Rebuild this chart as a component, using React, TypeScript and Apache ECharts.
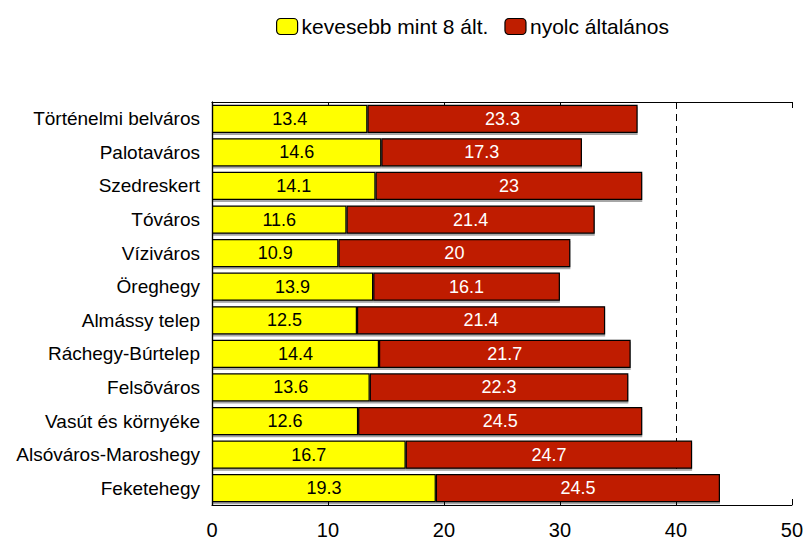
import React, { useEffect, useRef } from "react";
import * as echarts from "echarts";

const categories = [
  "Történelmi belváros",
  "Palotaváros",
  "Szedreskert",
  "Tóváros",
  "Víziváros",
  "Öreghegy",
  "Almássy telep",
  "Ráchegy-Búrtelep",
  "Felsõváros",
  "Vasút és környéke",
  "Alsóváros-Maroshegy",
  "Feketehegy",
];
const lessThan8 = [13.4, 14.6, 14.1, 11.6, 10.9, 13.9, 12.5, 14.4, 13.6, 12.6, 16.7, 19.3];
const eightGrade = [23.3, 17.3, 23, 21.4, 20, 16.1, 21.4, 21.7, 22.3, 24.5, 24.7, 24.5];
const seriesNames = ["kevesebb mint 8 ált.", "nyolc általános"];
const referenceLine = 40;

const FONT = "'Liberation Sans Narrow', 'Arial Narrow', 'Liberation Sans', Arial, sans-serif";

export default function App() {
  const ref = useRef<HTMLDivElement>(null);
  useEffect(() => {
    if (!ref.current) return;
    const chart = echarts.init(ref.current, null, { renderer: "svg" });
    const itemBase = { borderColor: "#000", borderWidth: 1.2, shadowColor: "rgba(0,0,0,0.35)", shadowOffsetY: 2, shadowOffsetX: 0, shadowBlur: 0 };
    chart.setOption({
      animation: false,
      backgroundColor: "#fff",
      textStyle: { fontFamily: FONT },
      legend: {
        top: 11,
        left: 271,
        itemWidth: 21,
        itemHeight: 16,
        itemGap: 16,
        textStyle: { fontFamily: FONT, fontSize: 21, color: "#000", padding: [0, 0, 0, -1] },
        data: seriesNames.map((n) => ({ name: n, itemStyle: { borderColor: "#000", borderWidth: 1.2, shadowOffsetY: 0 } })),
      },
      grid: { left: 212, right: 14, top: 102, bottom: 37, containLabel: false },
      xAxis: [
        {
          type: "value",
          min: 0,
          max: 50,
          interval: 10,
          position: "bottom",
          axisLine: { show: true, lineStyle: { color: "#000", width: 1.2 } },
          axisTick: { show: true, inside: true, length: 6, lineStyle: { color: "#000" } },
          axisLabel: { color: "#000", fontSize: 20, fontFamily: FONT, margin: 15 },
          splitLine: { show: false },
        },
        {
          type: "value",
          min: 0,
          max: 50,
          interval: 10,
          position: "top",
          axisLine: { show: true, lineStyle: { color: "#000", width: 1.2 } },
          axisTick: { show: true, inside: true, length: 6, lineStyle: { color: "#000" } },
          axisLabel: { show: false },
          splitLine: { show: false },
        },
      ],
      yAxis: [
        {
          type: "category",
          data: categories,
          inverse: true,
          axisLine: { show: true, lineStyle: { color: "#000", width: 1.2 } },
          axisTick: { show: false },
          axisLabel: { color: "#000", fontSize: 19, fontFamily: FONT, margin: 12 },
        },
        {
          type: "category",
          data: categories,
          inverse: true,
          position: "right",
          axisLine: { show: true, lineStyle: { color: "#000", width: 1.2 } },
          axisTick: { show: false },
          axisLabel: { show: false },
        },
      ],
      series: [
        {
          name: "ref",
          type: "line",
          data: [],
          z: 1,
          markLine: {
            silent: true,
            symbol: "none",
            z: 1,
            label: { show: false },
            lineStyle: { color: "#000", type: [7, 5], width: 1 },
            data: [{ xAxis: referenceLine }],
          },
        },
        {
          name: seriesNames[0],
          type: "bar",
          stack: "total",
          barCategoryGap: "16%",
          data: lessThan8,
          itemStyle: { color: "#FFFF00", ...itemBase },
          label: { show: true, position: "inside", color: "#000", fontSize: 18, fontFamily: FONT },
          z: 3,
        },
        {
          name: seriesNames[1],
          type: "bar",
          stack: "total",
          barCategoryGap: "16%",
          data: eightGrade,
          itemStyle: { color: "#BF1E00", ...itemBase },
          label: { show: true, position: "inside", color: "#fff", fontSize: 18, fontFamily: FONT },
          z: 3,
        },
      ],
    });
    return () => chart.dispose();
  }, []);
  return <div ref={ref} style={{ position: "fixed", left: 0, top: 0, width: 806, height: 542 }} />;
}
